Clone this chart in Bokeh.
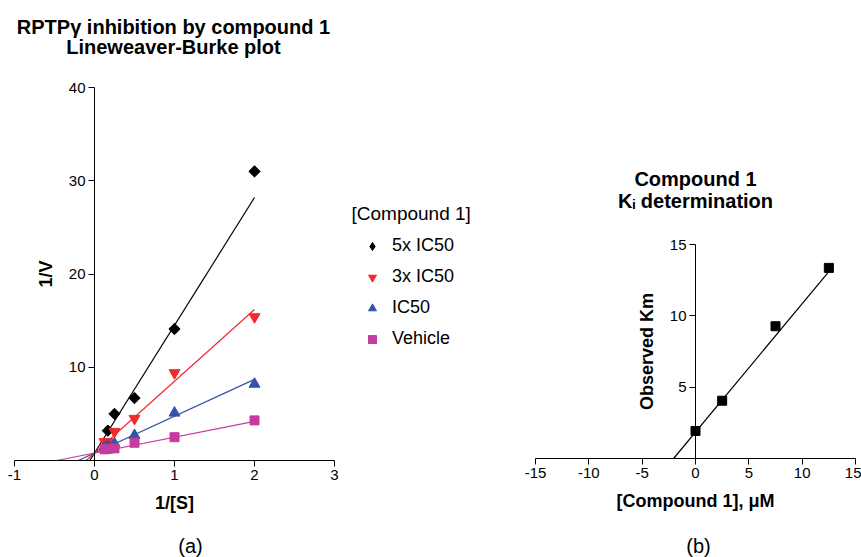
import math
from bokeh.plotting import figure
from bokeh.models import Range1d, Label, Legend, LegendItem
from bokeh.layouts import row
from bokeh.embed import file_html
from bokeh.resources import INLINE

# ---------------- data (a) Lineweaver-Burke ----------------
inv_s = [0.125, 0.1667, 0.25, 0.5, 1.0, 2.0]
inv_s_5x = [0.1667, 0.25, 0.5, 1.0, 2.0]
v_5x = [3.2, 5.0, 6.7, 14.1, 31.0]
v_3x = [2.0, 2.0, 3.1, 4.5, 9.4, 15.4]
v_ic50 = [1.4, 1.6, 1.8, 2.7, 5.1, 8.2]
v_vehicle = [1.2, 1.25, 1.3, 1.9, 2.5, 4.3]
series_names = ["5x IC50", "3x IC50", "IC50", "Vehicle"]
fit_slopes = [13.7, 7.7, 3.95, 1.7]
fit_intercepts = [0.8, 0.8, 0.8, 0.8]
fit_x_end = 2.0
xticks_a = [-1, 0, 1, 2, 3]
yticks_a = [10, 20, 30, 40]

# ---------------- data (b) Ki determination ----------------
conc = [0.0, 2.5, 7.5, 12.5]
km_obs = [1.93, 4.05, 9.27, 13.36]
ki_slope = 0.9
ki_intercept = 1.85
xticks_b = [-15, -10, -5, 0, 5, 10, 15]
yticks_b = [5, 10, 15]

FONT = "Liberation Sans"
RED = "#EE2B30"
BLUE = "#3452A8"
MAG = "#C43C9E"
H = 557
TEXT_SHIFT = 6  # labels render a few px lower than requested


def style_axes(p, xb, yb, xticks, yticks):
    p.grid.visible = False
    p.outline_line_color = None
    p.xaxis.ticker = xticks
    p.yaxis.ticker = yticks
    p.xaxis.major_label_overrides = {t: str(t) for t in xticks}
    p.yaxis.major_label_overrides = {t: str(t) for t in yticks}
    p.xaxis.bounds = xb
    p.yaxis.bounds = yb
    p.xaxis.fixed_location = 0
    p.yaxis.fixed_location = 0
    for ax in [p.xaxis[0], p.yaxis[0]]:
        ax.axis_line_color = "black"
        ax.axis_line_width = 1
        ax.major_tick_line_color = "black"
        ax.major_tick_out = 6
        ax.major_tick_in = 0
        ax.minor_tick_line_color = None
        ax.major_label_text_font = FONT
        ax.major_label_text_font_size = "15px"
        ax.major_label_text_color = "black"
        ax.major_label_standoff = 3
        ax.axis_label_text_font = FONT
        ax.axis_label_text_font_style = "bold"
        ax.axis_label_text_font_size = "18px"
        ax.axis_label_text_color = "black"
        ax.axis_label_standoff = 10


def lab(p, text, x, y, size, bold=False, align="center"):
    # x: pixel from the figure's left edge, y: baseline pixel from its top edge
    p.add_layout(Label(x=x, y=H - (y - TEXT_SHIFT), x_units="screen", y_units="screen",
                       text=text, text_font=FONT, text_font_size=size,
                       text_font_style="bold" if bold else "normal",
                       text_align=align, text_baseline="alphabetic",
                       text_color="black"))


# ---------------- figure (a) ----------------
W1 = 500
xpx_a = 80.0
ypx_a = (460 - 87) / 40.0
p1 = figure(width=W1, height=H, output_backend="svg", toolbar_location=None,
            x_range=Range1d(-1 - 14 / xpx_a, 3 + (W1 - 334) / xpx_a),
            y_range=Range1d(-(H - 460) / ypx_a, 460 / ypx_a),
            min_border=0)
style_axes(p1, (-1, 3), (0, 40), xticks_a, yticks_a)
p1.xaxis.axis_label = "1/[S]"
p1.yaxis.axis_label = "1/V"

colors = ["black", RED, BLUE, MAG]
for m, b, c in zip(fit_slopes, fit_intercepts, colors):
    x0 = -b / m
    p1.line([x0, fit_x_end], [0, b + m * fit_x_end], line_color=c, line_width=1.2)

r1 = p1.scatter(inv_s_5x, v_5x, marker="square", angle=math.pi / 4, size=8,
                fill_color="black", line_color="black")
r2 = p1.scatter(inv_s, v_3x, marker="inverted_triangle", size=11,
                fill_color=RED, line_color=RED)
r3 = p1.scatter(inv_s, v_ic50, marker="triangle", size=11,
                fill_color=BLUE, line_color=BLUE)
r4 = p1.scatter(inv_s, v_vehicle, marker="square", size=9,
                fill_color=MAG, line_color=MAG)
# legend key for the diamonds (a NaN point: draws nothing on the plot itself)
r1_key = p1.scatter(x=[float("nan")], y=[float("nan")], marker="diamond", size=10,
                    fill_color="black", line_color="black")

legend = Legend(items=[LegendItem(label=n, renderers=[r]) for n, r in
                       zip(series_names, [r1_key, r2, r3, r4])],
                location=(362, H - 349), padding=0, margin=0, spacing=10,
                glyph_width=20, glyph_height=20, label_height=20,
                label_standoff=10, border_line_color=None,
                background_fill_alpha=0, label_text_font=FONT,
                label_text_font_size="18px", label_text_color="black")
p1.add_layout(legend)

lab(p1, "RPTPγ inhibition by compound 1", 173, 32, "20px", True)
lab(p1, "Lineweaver-Burke plot", 173, 52, "20px", True)
lab(p1, "[Compound 1]", 351, 219, "19px", False, "left")
lab(p1, "(a)", 190, 551, "20px")

# ---------------- figure (b) ----------------
W2 = 861 - W1
xpx_b = (855 - 535) / 30.0
ypx_b = (458 - 244) / 15.0
left_b = 535 - W1
p2 = figure(width=W2, height=H, output_backend="svg", toolbar_location=None,
            x_range=Range1d(-15 - left_b / xpx_b, 15 + (W2 - (855 - W1)) / xpx_b),
            y_range=Range1d(-(H - 458) / ypx_b, 458 / ypx_b),
            min_border=0)
style_axes(p2, (-15, 15), (0, 15), xticks_b, yticks_b)
p2.xaxis.axis_label = "[Compound 1], μM"
p2.yaxis.axis_label = "Observed Km"

x0b = -ki_intercept / ki_slope
xe = conc[-1]
p2.line([x0b, xe], [0, ki_intercept + ki_slope * xe], line_color="black", line_width=1.2)
p2.scatter(conc, km_obs, marker="square", size=9, fill_color="black", line_color="black")

lab(p2, "Compound 1", 695 - W1, 184, "20px", True)
lab(p2, "Kᵢ determination", 695 - W1, 206, "20px", True)
lab(p2, "(b)", 698 - W1, 551, "20px")

layout = row(p1, p2)
open("out.html", "w").write(file_html(layout, INLINE))
